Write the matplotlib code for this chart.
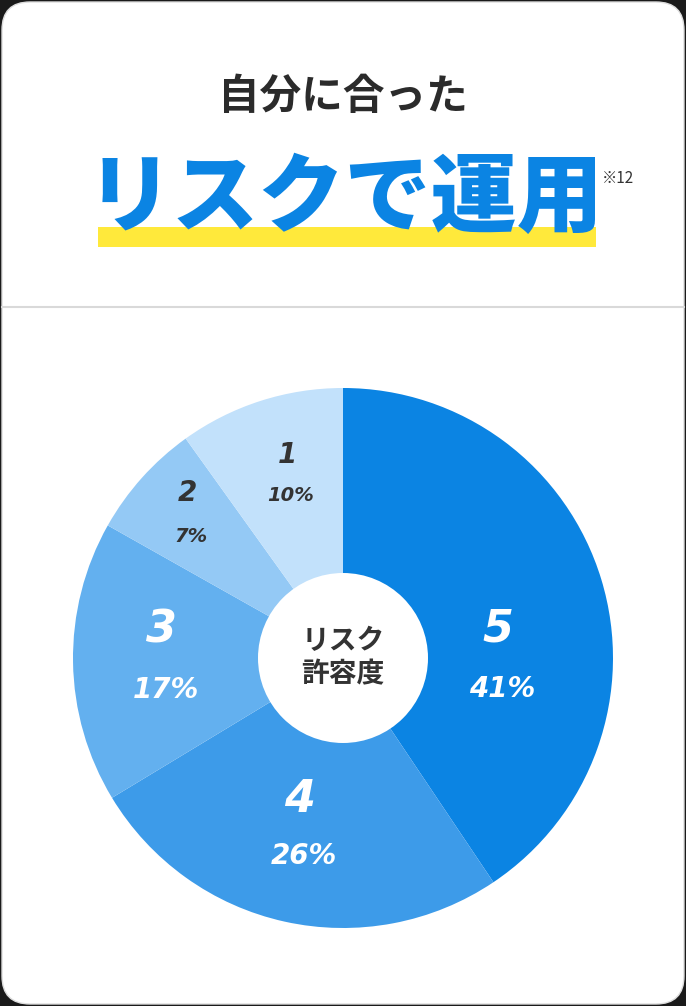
import matplotlib
matplotlib.use("Agg")
import matplotlib.pyplot as plt
from matplotlib.patches import FancyBboxPatch, Circle, Rectangle

plt.rcParams['font.family'] = ['Noto Sans CJK JP', 'DejaVu Sans']

levels = ["5", "4", "3", "2", "1"]
shares = [41, 26, 17, 7, 10]
colors = ["#0b84e3", "#3d9be9", "#63b0ef", "#94c9f5", "#c2e1fb"]
text_colors = ["white", "white", "white", "#333333", "#333333"]
# label anchor positions (pixels from top-left), layout only
label_pos = [(500, 659), (302, 828), (164, 660), (189, 515), (289, 475)]

W, H = 686, 1006
fig = plt.figure(figsize=(W/100, H/100), dpi=100)
fig.patch.set_facecolor("#1a1a1a")
ax = fig.add_axes([0, 0, 1, 1])
ax.set_xlim(0, W); ax.set_ylim(0, H); ax.axis("off")
ax.set_aspect("equal")

ax.add_patch(FancyBboxPatch((2, 2), W-4, H-4, boxstyle="round,pad=0,rounding_size=28",
                            fc="white", ec="#dddddd", lw=1))
ax.plot([2, W-2], [H-307, H-307], color="#d9d9d9", lw=1.5)

ax.text(343, H-97, "自分に合った", ha="center", va="center", fontsize=30,
        fontweight="bold", color="#2b2b2b")
ax.add_patch(Rectangle((98, H-247), 498, 20, fc="#ffe93b", ec="none"))
ax.text(345, H-200, "リスクで運用", ha="center", va="center", fontsize=62,
        fontweight="black", color="#0b84e3")
ax.text(602, H-178, "※12", ha="left", va="center", fontsize=11, color="#333333")

cx, cy, R = 343, H-658, 270
wedges, _ = ax.pie(shares, colors=colors, startangle=90, counterclock=False,
                   center=(cx, cy), radius=R, wedgeprops=dict(lw=0))
ax.set_xlim(0, W); ax.set_ylim(0, H)
ax.add_patch(Circle((cx, cy), 85, fc="white", ec="none", zorder=5))
ax.text(cx, cy, "リスク\n許容度", ha="center", va="center", fontsize=20,
        fontweight="bold", color="#333333", linespacing=1.25, zorder=6)

big = [32, 32, 32, 20, 20]
small = [20, 20, 20, 14, 14]
gap = [60, 56, 60, 44, 40]
for lv, s, tc, (px, py), b, sm, g in zip(levels, shares, text_colors, label_pos, big, small, gap):
    x = px; y = H - py
    ax.text(x - 2, y + g/2, lv, ha="center", va="center", fontsize=b,
            fontweight="bold", style="italic", color=tc, zorder=6, family="DejaVu Sans")
    ax.text(x + 2, y - g/2, f"{s}%", ha="center", va="center", fontsize=sm,
            fontweight="bold", style="italic", color=tc, zorder=6, family="DejaVu Sans")

fig.savefig("out.png", dpi=100, facecolor=fig.get_facecolor())
